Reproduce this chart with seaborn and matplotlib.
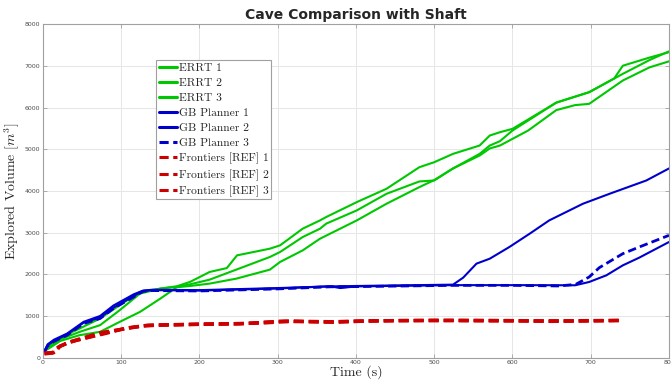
import numpy as np
import pandas as pd
import seaborn as sns
import matplotlib.pyplot as plt

# ERRT runs
errt1_t = [2, 10, 22, 47, 73, 98, 124, 150, 171, 188, 213, 235, 248, 290, 303, 332, 354, 362, 401, 439, 481, 500, 524, 558, 571, 584, 600, 656, 698, 741, 775, 800]
errt1_v = [180, 300, 480, 700, 940, 1258, 1577, 1657, 1713, 1818, 2056, 2150, 2455, 2615, 2695, 3096, 3293, 3375, 3732, 4052, 4570, 4690, 4890, 5090, 5330, 5410, 5490, 6120, 6370, 6810, 7140, 7350]
errt2_t = [2, 10, 22, 47, 73, 98, 124, 150, 171, 188, 213, 247, 290, 303, 332, 354, 362, 401, 439, 481, 500, 524, 558, 571, 584, 600, 656, 698, 730, 741, 775, 800]
errt2_v = [170, 280, 440, 620, 780, 1138, 1537, 1657, 1700, 1760, 1872, 2112, 2416, 2535, 2895, 3094, 3216, 3533, 3932, 4228, 4252, 4540, 4890, 5090, 5195, 5450, 6120, 6370, 6700, 7005, 7200, 7330]
errt3_t = [2, 10, 22, 47, 73, 98, 124, 150, 171, 188, 213, 247, 290, 303, 332, 354, 401, 439, 481, 500, 524, 558, 571, 584, 600, 620, 656, 680, 698, 741, 775, 800]
errt3_v = [160, 250, 400, 540, 620, 858, 1098, 1417, 1690, 1720, 1777, 1896, 2112, 2296, 2575, 2854, 3293, 3693, 4092, 4260, 4540, 4850, 5020, 5090, 5250, 5450, 5940, 6060, 6090, 6650, 6965, 7110]

# GB Planner runs
gb1_t = [2, 6, 14, 31, 52, 73, 90, 116, 128, 140, 200, 300, 367, 380, 400, 524, 600, 680, 698, 720, 741, 762, 800]
gb1_v = [150, 300, 400, 560, 840, 960, 1200, 1480, 1600, 1620, 1610, 1660, 1713, 1670, 1710, 1740, 1740, 1737, 1816, 1976, 2215, 2400, 2775]
gb2_t = [2, 6, 14, 31, 52, 73, 90, 116, 128, 140, 200, 300, 367, 400, 524, 537, 554, 571, 596, 622, 647, 690, 724, 771, 800]
gb2_v = [160, 320, 430, 580, 860, 1000, 1250, 1520, 1610, 1630, 1620, 1670, 1710, 1720, 1752, 1920, 2256, 2375, 2655, 2975, 3294, 3693, 3932, 4251, 4540]
gb3_t = [2, 6, 14, 31, 52, 73, 90, 116, 128, 140, 200, 300, 367, 400, 524, 600, 660, 681, 698, 711, 741, 762, 800]
gb3_v = [140, 280, 390, 540, 820, 940, 1180, 1460, 1590, 1610, 1600, 1650, 1700, 1705, 1735, 1735, 1720, 1760, 1936, 2160, 2495, 2655, 2935]

# Frontiers [REF] runs
fr1_t = [2, 14, 18, 31, 52, 73, 100, 128, 150, 200, 250, 300, 366, 400, 500, 600, 650, 736]
fr1_v = [100, 120, 230, 360, 480, 600, 680, 760, 780, 800, 810, 870, 858, 880, 898, 890, 870, 895]
fr2_t = [2, 12, 20, 35, 55, 80, 105, 130, 160, 210, 260, 310, 370, 420, 520, 620, 680, 736]
fr2_v = [90, 110, 260, 380, 470, 580, 700, 770, 790, 810, 820, 880, 850, 885, 895, 885, 880, 890]
fr3_t = [2, 16, 22, 40, 60, 85, 110, 135, 170, 220, 280, 320, 380, 450, 550, 640, 700, 736]
fr3_v = [110, 130, 280, 400, 500, 620, 720, 780, 790, 805, 830, 875, 860, 890, 885, 880, 890, 892]

green = '#00c800'
blue = '#0000cc'
red = '#cc0000'

series = [
    ('ERRT 1', errt1_t, errt1_v, green, '-', 1.5),
    ('ERRT 2', errt2_t, errt2_v, green, '-', 1.5),
    ('ERRT 3', errt3_t, errt3_v, green, '-', 1.5),
    ('GB Planner 1', gb1_t, gb1_v, blue, '-', 1.5),
    ('GB Planner 2', gb2_t, gb2_v, blue, '-', 1.5),
    ('GB Planner 3', gb3_t, gb3_v, blue, (0, (3, 1.5)), 2.0),
    ('Frontiers [REF] 1', fr1_t, fr1_v, red, (0, (3, 1.5)), 2.4),
    ('Frontiers [REF] 2', fr2_t, fr2_v, red, (0, (3, 1.5)), 2.4),
    ('Frontiers [REF] 3', fr3_t, fr3_v, red, (0, (3, 1.5)), 2.4),
]

sns.set_theme(style="whitegrid")
plt.rcParams['font.family'] = ['DejaVu Sans']
plt.rcParams['mathtext.fontset'] = 'cm'

fig, ax = plt.subplots(figsize=(6.71, 3.85), dpi=100)
fig.subplots_adjust(left=0.064, right=0.997, bottom=0.071, top=0.937)

for name, t, v, col, ls, lw in series:
    df = pd.DataFrame({'t': t, 'v': v})
    sns.lineplot(data=df, x='t', y='v', ax=ax, color=col, linestyle=ls,
                 linewidth=lw, label=name, sort=False, estimator=None)

ax.set_xlim(0, 800)
ax.set_ylim(0, 8000)
ax.set_xticks(np.arange(0, 801, 100))
ax.set_yticks(np.arange(0, 8001, 1000))
ax.grid(True, color='#e6e6e6', linewidth=0.7)
for s in ax.spines.values():
    s.set_color('#a0a0a0')
    s.set_linewidth(0.8)
ax.tick_params(direction='in', length=3, width=0.6, colors='#a0a0a0',
               labelcolor='#4d4d4d', labelsize=4.5, pad=2,
               top=True, right=True, bottom=True, left=True)

ax.set_xlabel('Time (s)', fontsize=10, family='cmr10', color='#262626', labelpad=0)
ax.set_ylabel(r'Explored Volume [$m^3$]', fontsize=10, family='cmr10', color='#262626', labelpad=2)
ax.set_title('Cave Comparison with Shaft', fontsize=10, fontweight='bold', pad=4)

leg = ax.legend(loc='upper left', bbox_to_anchor=(0.181, 0.892), borderaxespad=0,
                prop={'family': 'cmr10', 'size': 8.3}, frameon=True, fancybox=False,
                framealpha=1, edgecolor='#a0a0a0', borderpad=0.2, labelspacing=0.43,
                handlelength=1.6, handletextpad=0.2)
leg.get_frame().set_linewidth(0.8)
for h in leg.get_lines():
    h.set_linewidth(2.2)

fig.savefig('out.png', dpi=100)
